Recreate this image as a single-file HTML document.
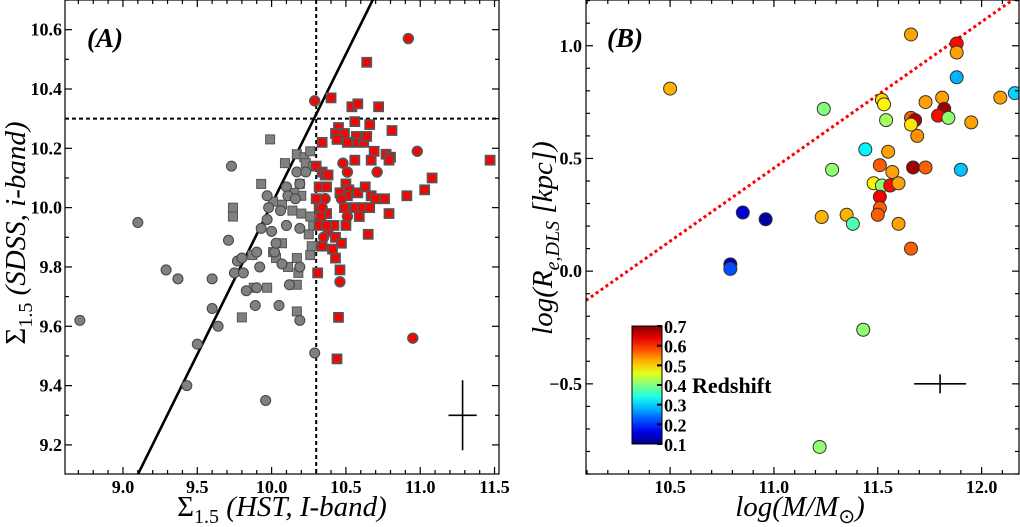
<!DOCTYPE html>
<html><head><meta charset="utf-8">
<style>
html,body{margin:0;padding:0;background:#fff;}
svg{display:block;font-family:"Liberation Serif",serif;}
.tk{font-weight:bold;font-size:18px;}
</style></head>
<body>
<svg id="chart" width="1020" height="527" viewBox="0 0 1020 527" xmlns="http://www.w3.org/2000/svg"></svg>
<script>
// ---------- Panel A data ----------
const aGrayCircX=[8.71,9.10,9.29,9.37,9.50,9.43,9.60,9.60,9.64,9.73,9.71,9.75,9.77,9.80,9.81,9.83,9.89,9.90,9.90,9.92,9.93,9.96,9.97,9.97,9.98,10.00,10.02,10.03,10.05,10.06,10.07,10.10,10.10,10.11,10.12,10.16,10.17,10.19,10.19,10.19,10.19,10.23,10.29];
const aGrayCircY=[9.62,9.95,9.79,9.76,9.54,9.40,9.76,9.66,9.60,10.14,9.89,9.78,9.82,9.83,9.78,9.72,9.67,9.85,9.73,9.80,9.93,9.35,10.04,9.96,10.00,9.92,9.85,9.88,9.67,9.99,9.81,10.07,9.94,10.04,9.74,10.03,10.12,9.62,10.08,9.80,9.93,10.12,9.51];
const aGraySqX=[9.80,9.93,9.99,9.87,9.74,9.74,9.88,9.97,10.01,10.01,10.03,10.07,10.07,10.09,10.11,10.14,10.17,10.17,10.17,10.17,10.19,10.20,10.22,10.23,10.25,10.26,10.27,10.26,10.26,10.28,10.28,10.20,10.15,10.18];
const aGraySqY=[9.63,10.08,10.23,9.84,10.00,9.97,9.73,9.73,9.85,10.02,9.83,9.88,10.01,10.15,9.80,9.99,10.18,9.65,9.83,9.74,10.08,9.98,10.17,10.15,9.91,9.84,9.87,9.97,10.19,9.94,10.14,10.04,10.05,9.78];
const aRedSqX=[10.64,10.40,10.54,10.58,10.72,10.56,10.66,10.81,10.45,10.49,10.43,10.44,10.51,10.57,10.58,10.62,10.64,10.69,10.77,10.80,10.79,10.67,10.56,10.34,10.30,10.34,10.36,10.38,10.32,10.37,10.50,10.52,10.51,10.46,10.58,10.63,10.67,10.70,10.76,10.91,11.03,11.08,10.49,10.56,10.61,10.66,10.59,10.79,10.32,10.37,10.33,10.50,10.32,10.38,10.42,10.43,10.65,10.34,10.41,10.43,10.47,10.46,10.31,10.45,10.44,11.47,10.30];
const aRedSqY=[10.49,10.37,10.34,10.35,10.34,10.29,10.28,10.26,10.27,10.25,10.25,10.23,10.22,10.24,10.22,10.22,10.24,10.19,10.18,10.17,10.16,10.16,10.16,10.22,10.14,10.12,10.11,10.11,10.07,10.07,10.08,10.06,10.04,10.05,10.05,10.07,10.04,10.03,10.03,10.04,10.06,10.10,10.00,10.00,10.00,10.00,9.97,9.98,10.00,9.98,9.97,9.94,9.94,9.92,9.94,9.90,9.91,9.87,9.86,9.83,9.88,9.79,9.78,9.63,9.49,10.16,10.03];
const aRedCircX=[10.92,10.29,10.48,10.51,10.71,10.98,10.47,10.36,10.34,10.51,10.37,10.35,10.46,10.95];
const aRedCircY=[10.57,10.36,10.15,10.12,10.12,10.19,10.03,10.03,10.00,9.97,9.94,9.90,9.75,9.56];
const aXTicks=["9.0","9.5","10.0","10.5","11.0","11.5"];
const aYTicks=["9.2","9.4","9.6","9.8","10.0","10.2","10.4","10.6"];
// ---------- Panel B data ----------
const bMass=[10.50,11.24,11.66,11.88,11.88,11.88,12.16,12.09,11.52,11.53,11.73,11.81,11.82,11.54,11.66,11.68,11.66,11.79,11.84,11.95,11.69,11.44,11.55,11.28,11.51,11.67,11.73,11.90,11.57,11.48,11.52,11.56,11.60,11.51,11.51,11.50,11.23,11.35,11.38,11.60,11.66,10.85,10.96,10.79,10.79,11.43,11.22];
const bRe=[0.81,0.72,1.05,1.01,0.97,0.86,0.79,0.77,0.76,0.74,0.75,0.77,0.72,0.67,0.68,0.67,0.65,0.69,0.68,0.66,0.60,0.54,0.53,0.45,0.47,0.46,0.46,0.45,0.44,0.39,0.38,0.38,0.39,0.33,0.28,0.25,0.24,0.25,0.21,0.21,0.10,0.26,0.23,0.03,0.01,-0.26,-0.78];
const bZ=[0.52,0.40,0.53,0.62,0.53,0.28,0.30,0.53,0.50,0.48,0.53,0.53,0.68,0.42,0.57,0.67,0.49,0.62,0.41,0.53,0.54,0.32,0.53,0.41,0.57,0.68,0.57,0.29,0.53,0.48,0.41,0.62,0.53,0.63,0.57,0.57,0.52,0.52,0.37,0.53,0.57,0.15,0.12,0.13,0.22,0.41,0.41];
const bXTicks=["10.5","11.0","11.5","12.0"];
const bYTicks=["−0.5","0.0","0.5","1.0"];
const cbTicks=["0.1","0.2","0.3","0.4","0.5","0.6","0.7"];

const NS="http://www.w3.org/2000/svg";
const svg=document.getElementById('chart');
function mk(tag,attrs,parent){const e=document.createElementNS(NS,tag);for(const k in attrs)e.setAttribute(k,attrs[k]);(parent||svg).appendChild(e);return e;}
function lin(d0,d1,r0,r1){return v=>r0+(v-d0)*(r1-r0)/(d1-d0);}
function jet(t){t=Math.max(0,Math.min(1,t));const f=x=>Math.round(255*Math.max(0,Math.min(1,1.5-Math.abs(x))));return `rgb(${f(4*t-3)},${f(4*t-2)},${f(4*t-1)})`;}

function frame(g,L,R,T,B,xs,ys,xMin,xMax,xStep,yMin,yMax,yStep,majX,majY){
  mk('rect',{x:L,y:T,width:R-L,height:B-T,fill:'none',stroke:'#000','stroke-width':1.2},g);
  for(let v=Math.ceil(xMin/xStep-1e-6)*xStep;v<=xMax+1e-9;v+=xStep){
    const x=xs(v);const major=Math.abs(v/majX-Math.round(v/majX))<1e-6;const l=major?7:4;
    mk('line',{x1:x,x2:x,y1:B,y2:B-l,stroke:'#000','stroke-width':1.2},g);
    mk('line',{x1:x,x2:x,y1:T,y2:T+l,stroke:'#000','stroke-width':1.2},g);
  }
  for(let v=Math.ceil(yMin/yStep-1e-6)*yStep;v<=yMax+1e-9;v+=yStep){
    const y=ys(v);const major=Math.abs(v/majY-Math.round(v/majY))<1e-6;const l=major?7:4;
    mk('line',{x1:L,x2:L+l,y1:y,y2:y,stroke:'#000','stroke-width':1.2},g);
    mk('line',{x1:R,x2:R-l,y1:y,y2:y,stroke:'#000','stroke-width':1.2},g);
  }
}

// ===== Panel A =====
const gA=mk('g',{});


const AL=65,AR=499,AT=0,AB=474;
const ax=lin(8.61,11.53,AL,AR), ay=lin(9.102,10.70,AB,AT);
const ca=mk('clipPath',{id:'ca'},gA);mk('rect',{x:AL,y:AT,width:AR-AL,height:AB-AT},ca);
const gAc=mk('g',{'clip-path':'url(#ca)'},gA);
let e=mk('line',{x1:ax(9.08),y1:ay(9.08),x2:ax(10.70),y2:ay(10.72),stroke:'#000','stroke-width':2.6},gAc);

e=mk('line',{x1:ax(10.3),x2:ax(10.3),y1:AT,y2:AB,stroke:'#000','stroke-width':2,'stroke-dasharray':'4,3'},gAc);

e=mk('line',{x1:AL,x2:AR,y1:ay(10.3),y2:ay(10.3),stroke:'#000','stroke-width':2,'stroke-dasharray':'4,3'},gAc);

aGraySqX.forEach((v,i)=>{const s=mk('rect',{x:ax(v)-4.5,y:ay(aGraySqY[i])-4.5,width:9,height:9,fill:'#808080',stroke:'#555','stroke-width':1},gAc);
});
aGrayCircX.forEach((v,i)=>{const s=mk('circle',{cx:ax(v),cy:ay(aGrayCircY[i]),r:5,fill:'#808080',stroke:'#444','stroke-width':1},gAc);
});
aRedSqX.forEach((v,i)=>{const s=mk('rect',{x:ax(v)-4.5,y:ay(aRedSqY[i])-4.5,width:9,height:9,fill:'#ff0000',stroke:'#555','stroke-width':1.8},gAc);
});
aRedCircX.forEach((v,i)=>{const s=mk('circle',{cx:ax(v),cy:ay(aRedCircY[i]),r:4.8,fill:'#ff0000',stroke:'#555','stroke-width':1.8},gAc);
});
e=mk('g',{stroke:'#000','stroke-width':1.6},gA);

mk('line',{x1:ax(11.19),x2:ax(11.38),y1:ay(9.3),y2:ay(9.3)},e);
mk('line',{x1:ax(11.285),x2:ax(11.285),y1:ay(9.418),y2:ay(9.182)},e);
frame(gA,AL,AR,AT,AB,ax,ay,8.61,11.53,0.1,9.102,10.70,0.1,0.5,0.2);
aXTicks.forEach(t=>{const s=mk('text',{x:ax(parseFloat(t)),y:493,'text-anchor':'middle',class:'tk'},gA);s.textContent=t;
});
aYTicks.forEach(t=>{const s=mk('text',{x:62,y:ay(parseFloat(t))+6,'text-anchor':'end',class:'tk'},gA);s.textContent=t;
});
e=mk('text',{x:87,y:47,'font-size':27,'font-weight':'bold','font-style':'italic'},gA);e.textContent='(A)';

e=mk('text',{x:282,y:516,'text-anchor':'middle','font-size':29},gA);
e.innerHTML='Σ<tspan font-size="20" dy="7">1.5</tspan><tspan dy="-7" font-style="italic"> (HST, I-band)</tspan>';

e=mk('text',{x:0,y:0,'text-anchor':'middle','font-size':29,transform:'translate(25,233) rotate(-90)'},gA);
e.innerHTML='Σ<tspan font-size="20" dy="7">1.5</tspan><tspan dy="-7" font-style="italic"> (SDSS, i-band)</tspan>';


// ===== Panel B =====
const gB=mk('g',{});


const BL=586,BR=1019,BT=0,BB=474;
const bx=lin(10.095,12.18,BL,BR), by=lin(-0.90,1.203,BB,BT);
const cp=mk('clipPath',{id:'cb'},gB);mk('rect',{x:BL,y:BT,width:BR-BL,height:BB-BT},cp);
const gBc=mk('g',{'clip-path':'url(#cb)'},gB);
e=mk('line',{x1:bx(10.095),y1:by(-0.13),x2:bx(12.16),y2:by(1.21),stroke:'#ff0000','stroke-width':3,'stroke-dasharray':'3,3'},gBc);

bMass.forEach((v,i)=>{const s=mk('circle',{cx:bx(v),cy:by(bRe[i]),r:6.5,fill:jet((bZ[i]-0.1)/0.6),stroke:'#333','stroke-width':1},gBc);
});
e=mk('g',{stroke:'#000','stroke-width':1.6},gB);

mk('line',{x1:bx(11.675),x2:bx(11.925),y1:by(-0.5),y2:by(-0.5)},e);
mk('line',{x1:bx(11.8),x2:bx(11.8),y1:by(-0.458),y2:by(-0.542)},e);
frame(gB,BL,BR,BT,BB,bx,by,10.095,12.18,0.1,-0.90,1.203,0.1,0.5,0.5);
bXTicks.forEach(t=>{const s=mk('text',{x:bx(parseFloat(t)),y:493,'text-anchor':'middle',class:'tk'},gB);s.textContent=t;
});
bYTicks.forEach(t=>{const s=mk('text',{x:582,y:by(parseFloat(t.replace('−','-')))+6,'text-anchor':'end',class:'tk'},gB);s.textContent=t;
});
e=mk('text',{x:607,y:47,'font-size':27,'font-weight':'bold','font-style':'italic'},gB);e.textContent='(B)';

e=mk('text',{x:800,y:516,'text-anchor':'middle','font-size':29,'font-style':'italic'},gB);
e.innerHTML='log(M/M<tspan font-style="normal" font-size="20" dy="7">⊙</tspan><tspan dy="-7">)</tspan>';

e=mk('text',{x:0,y:0,'text-anchor':'middle','font-size':29,'font-style':'italic',transform:'translate(552,238) rotate(-90)'},gB);
e.innerHTML='log(R<tspan font-size="20" dy="7">e,DLS</tspan><tspan dy="-7"> [kpc])</tspan>';

// colorbar
const defs=mk('defs',{},gB);const lg=mk('linearGradient',{id:'jetg',x1:0,y1:1,x2:0,y2:0},defs);
for(let i=0;i<=10;i++)mk('stop',{offset:i/10,'stop-color':jet(i/10)},lg);
const cbT=326,cbB=444,cbL=632,cbR=662;
e=mk('rect',{x:cbL,y:cbT,width:cbR-cbL,height:cbB-cbT,fill:'url(#jetg)',stroke:'#000','stroke-width':1},gB);

const cy=lin(0.1,0.7,cbB,cbT);
cbTicks.forEach(t=>{const y=cy(parseFloat(t));
mk('line',{x1:cbR-5,x2:cbR,y1:y,y2:y,stroke:'#000','stroke-width':2},gB);
const s=mk('text',{x:664,y:y+7,class:'tk','font-size':19},gB);s.textContent=t;
});
e=mk('text',{x:692,y:393,'font-size':22,'font-weight':'bold'},gB);e.textContent='Redshift';

</script>
</body></html>
